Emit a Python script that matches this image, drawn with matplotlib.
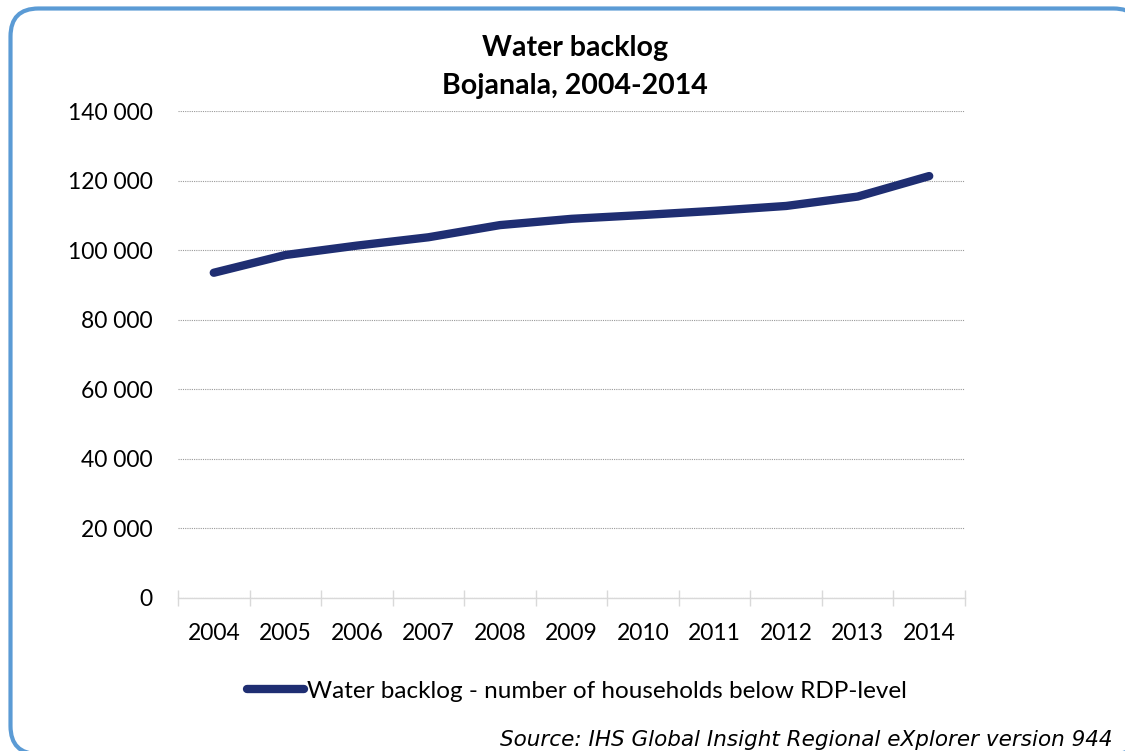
import matplotlib
matplotlib.use("Agg")
import matplotlib.pyplot as plt
from matplotlib.patches import FancyBboxPatch
from matplotlib.ticker import FuncFormatter, MultipleLocator

years = ["2004", "2005", "2006", "2007", "2008", "2009",
         "2010", "2011", "2012", "2013", "2014"]
backlog = [93500, 98600, 101300, 103700, 107200, 109000,
           110100, 111300, 112700, 115400, 121300]

series_label = "Water backlog - number of households below RDP-level"
title = "Water backlog\nBojanala, 2004-2014"
source = "Source: IHS Global Insight Regional eXplorer version 944"

plt.rcParams["font.family"] = ["Lato", "DejaVu Sans"]

W, H = 1125, 751
fig = plt.figure(figsize=(W / 100, H / 100), dpi=100)

# rounded frame around the whole chart, drawn in pixel units
bg = fig.add_axes([0, 0, 1, 1], zorder=0)
bg.set_xlim(0, W)
bg.set_ylim(0, H)
bg.axis("off")
frame = FancyBboxPatch((10.5, -3), 1131, H - 8.5 + 3,
                       boxstyle="round,pad=0,rounding_size=28",
                       facecolor="white", edgecolor="#5b9bd5", linewidth=3)
bg.add_patch(frame)

ax = fig.add_axes([178 / W, 1 - 598 / H, 787 / W, 487 / H], zorder=1)
ax.patch.set_alpha(0)

x = list(range(len(years)))
line, = ax.plot(x, backlog, color="#1f2e72", linewidth=6,
                solid_capstyle="round", solid_joinstyle="round",
                label=series_label, zorder=3)

ax.set_xlim(-0.5, len(years) - 0.5)
ax.set_ylim(0, 140000)
ax.yaxis.set_major_locator(MultipleLocator(20000))
ax.yaxis.set_major_formatter(FuncFormatter(lambda v, p: f"{int(v):,}".replace(",", " ")))
ax.grid(axis="y", linestyle=(0, (1, 1)), color="#9a9a9a", linewidth=0.8)
ax.set_axisbelow(True)

ax.set_xticks(x)
ax.set_xticklabels(years)
ax.set_xticks([i - 0.5 for i in range(len(years) + 1)], minor=True)
ax.tick_params(axis="x", which="major", length=0, pad=18, labelsize=16.5)
ax.tick_params(axis="x", which="minor", direction="inout", length=11,
               color="#d9d9d9", width=1)
ax.tick_params(axis="y", length=0, pad=18, labelsize=16.5)

for side in ("top", "right", "left"):
    ax.spines[side].set_visible(False)
ax.spines["bottom"].set_color("#d9d9d9")
ax.spines["bottom"].set_linewidth(1)

fig.text(575 / W, 1 - 67 / H, title, ha="center", va="center",
         fontsize=20.5, fontweight="bold", linespacing=1.55)

leg = fig.legend(handles=[line], loc="center", bbox_to_anchor=(577 / W, 1 - 691 / H),
                 frameon=False, fontsize=17.5, handlelength=2.35, handletextpad=0.12)

fig.text(1112 / W, 1 - 740 / H, source, ha="right", va="center",
         fontsize=15.5, style="italic", family="DejaVu Sans")

fig.savefig("out.png", dpi=100)
